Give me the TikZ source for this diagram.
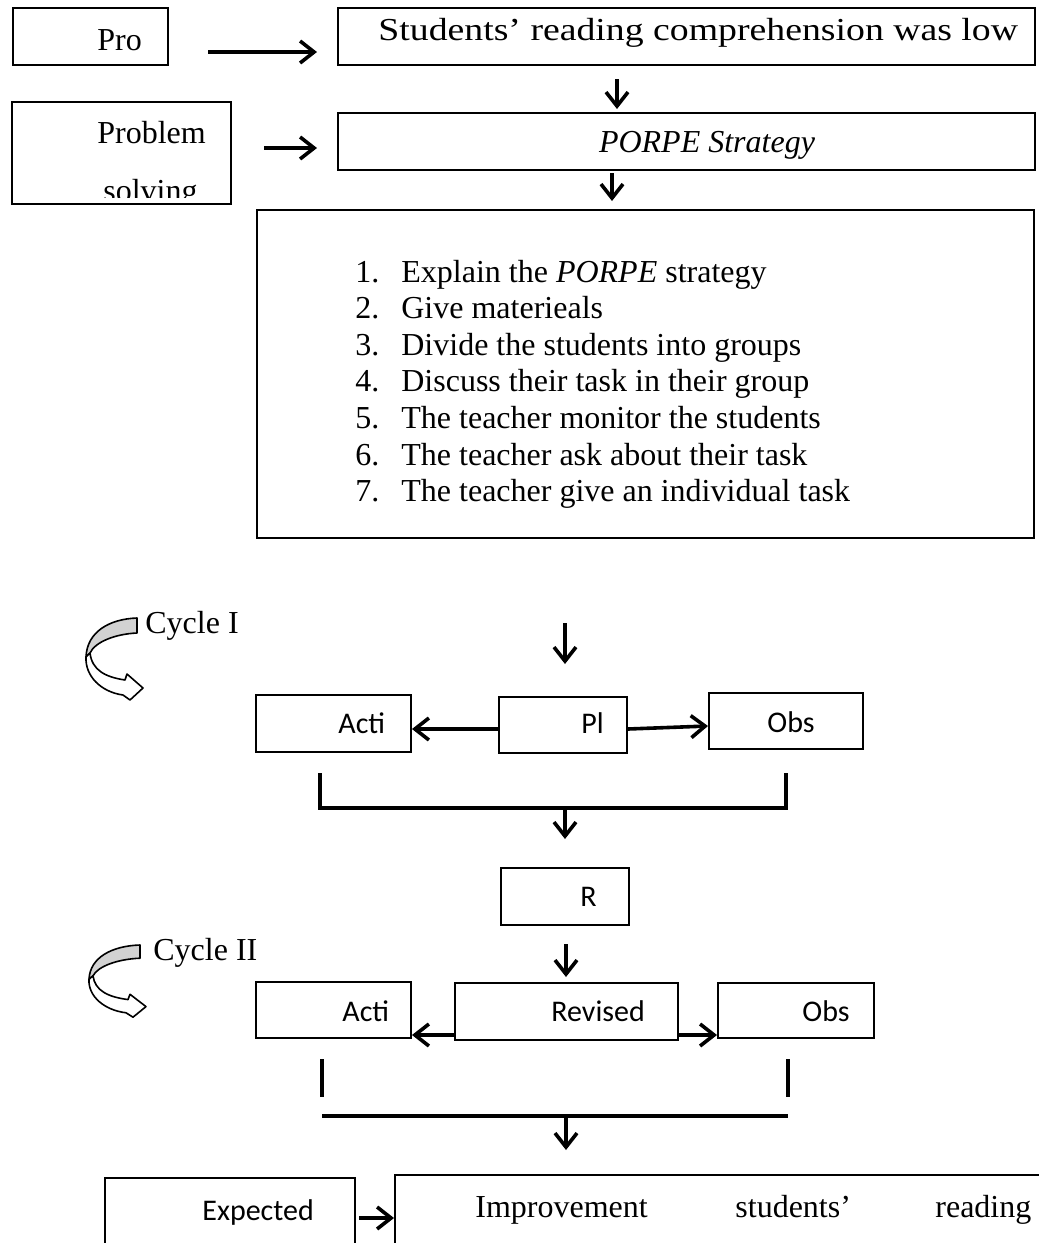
\documentclass[tikz,border=0pt]{standalone}
\usepackage{fontspec}
\setmainfont{Liberation Serif}
\newfontfamily\calibrifont{Carlito}
\usetikzlibrary{arrows.meta,fit}
\tikzset{
  box/.style={draw,line width=1pt,inner sep=0pt,fit={#1}},
  txt/.style={font=\fontsize{16}{18.3}\selectfont,inner sep=0pt,anchor=base west},
  cal/.style={font=\calibrifont\fontsize{15}{18}\selectfont,inner sep=0pt,anchor=base west},
  arr/.style={line width=1.8pt,-{Straight Barb[length=7pt,width=11pt]}},
  brk/.style={line width=1.8pt},
  cyclearrow/.pic={
    \filldraw[fill=gray!35,line width=0.8pt,line join=round] (0,0) .. controls (-28,1) and (-50,14) .. (-51,39)
      -- (-47,35) .. controls (-42,24) and (-22,16) .. (0,15) -- cycle;
    \filldraw[fill=white,line width=0.8pt,line join=round] (-51,39) .. controls (-52,58) and (-36,74) .. (-14,77)
      -- (-7,82) -- (6,70) -- (-10,56) -- (-12,62) .. controls (-32,59) and (-45,52) .. (-47,35) -- cycle;
  }
}

\begin{document}
\begin{tikzpicture}[x=0.5pt,y=-0.5pt]
  \useasboundingbox (0,0) rectangle (1039,1243);
  \fill[white] (0,0) rectangle (1039,1243);
  \clip (0,0) rectangle (1039,1243);

  % problem and strategy
  \node [box={(13,8) (168,65)}] (pro) {};
  \node [box={(338,8) (1035,65)}] (low) {};
  \node [box={(12,102) (231,204)}] (prob) {};
  \node [box={(338,113) (1035,170)}] (porpe) {};
  \node [box={(257,210) (1034,538)}] (steps) {};

  \node [txt] (protxt) at (97,50) {Pro};
  \node [txt] (lowtxt) at (378,40) {\scalebox{1.18}[1]{Students’ reading comprehension was low}};
  \node [txt] (probtxt) at (97,143) {Problem};
  \begin{scope}
    \clip (12,102) rectangle (231,197);
    \node [txt] (solvtxt) at (103,201) {solving};
  \end{scope}
  \node [txt,anchor=base] (porpetxt) at (707,152) {\textit{PORPE Strategy}};

  \foreach \s [count=\i] in {Explain the \textit{PORPE} strategy, Give materieals,
      Divide the students into groups, Discuss their task in their group,
      The teacher monitor the students, The teacher ask about their task,
      The teacher give an individual task}
    \node [txt] (step\i) at (355,{282+36.6*(\i-1)}) {\makebox[23pt][l]{\i.}\s};

  \draw [arr,shorten <=19.5pt,shorten >=10pt] (pro.east |- 0,52) -- (low.west |- 0,52);
  \draw [arr,shorten <=16pt,shorten >=10pt] (prob.east |- 0,148) -- (porpe.west |- 0,148);
  \draw [arr,shorten <=6.5pt,shorten >=1.5pt] (low.south -| 617,0) -- (porpe.north -| 617,0);
  \draw [arr,shorten <=1pt,shorten >=4pt] (porpe.south -| 612,0) -- (steps.north -| 612,0);

  % cycle I
  \node [box={(256,695) (411,752)}] (act1) {};
  \node [box={(499,697) (627,753)}] (plan) {};
  \node [box={(709,693) (863,749)}] (obs1) {};
  \node [box={(501,868) (629,925)}] (refl) {};

  \pic at (137,618) {cyclearrow};
  \node [txt] (cyc1) at (145,633) {Cycle I};
  \node [cal] (act1txt) at (338,733) {Acti};
  \node [cal] (plantxt) at (581,733) {Pl};
  \node [cal] (obs1txt) at (767,732) {Obs};
  \node [cal] (refltxt) at (580,906) {R};

  \draw [arr,shorten <=42pt,shorten >=16pt] (steps.south -| 565,0) -- (plan.north -| 565,0);
  \draw [arr] (plan.west |- 0,729) -- (act1.east |- 0,729);
  \draw [arr] (plan.east |- 0,729) -- (obs1.west |- 0,726);
  \draw [brk] (320,773) -- (320,808) -- (786,808) -- (786,773);
  \coordinate (brk1) at (565,808);
  \draw [arr,shorten >=14pt] (brk1) -- (refl.north);

  % cycle II
  \node [box={(256,982) (411,1038)}] (act2) {};
  \node [box={(455,983) (678,1040)}] (rev) {};
  \node [box={(718,983) (874,1038)}] (obs2) {};

  \pic [yscale=0.88] at (140,945) {cyclearrow};
  \node [txt] (cyc2) at (153,960) {Cycle II};
  \node [cal] (act2txt) at (342,1021) {Acti};
  \node [cal] (revtxt) at (551,1021) {Revised};
  \node [cal] (obs2txt) at (802,1021) {Obs};

  \draw [arr,shorten <=9pt,shorten >=2.5pt] (refl.south -| 566,0) -- (rev.north -| 566,0);
  \draw [arr] (rev.west |- 0,1035) -- (act2.east |- 0,1035);
  \draw [arr] (rev.east |- 0,1035) -- (obs2.west |- 0,1035);
  \draw [brk] (322,1059) -- (322,1097);
  \draw [brk] (788,1059) -- (788,1097);
  \draw [brk] (322,1116) -- (788,1116);
  \coordinate (brk2) at (566,1116);
  \coordinate (brk2end) at (566,1150);
  \draw [arr] (brk2) -- (brk2end);

  % expected result
  \node [box={(105,1178) (355,1300)}] (exp) {};
  \node [box={(395,1175) (1060,1300)}] (impr) {};
  \node [cal] (exptxt) at (202,1220) {Expected};
  \node [txt] (imprtxt) at (475,1217) {Improvement};
  \node [txt] (stdtxt) at (735,1217) {students’};
  \node [txt] (readtxt) at (935,1217) {reading};
  \draw [arr,shorten <=1.5pt] (exp.east |- 0,1218) -- (impr.west |- 0,1218);
\end{tikzpicture}
\end{document}
